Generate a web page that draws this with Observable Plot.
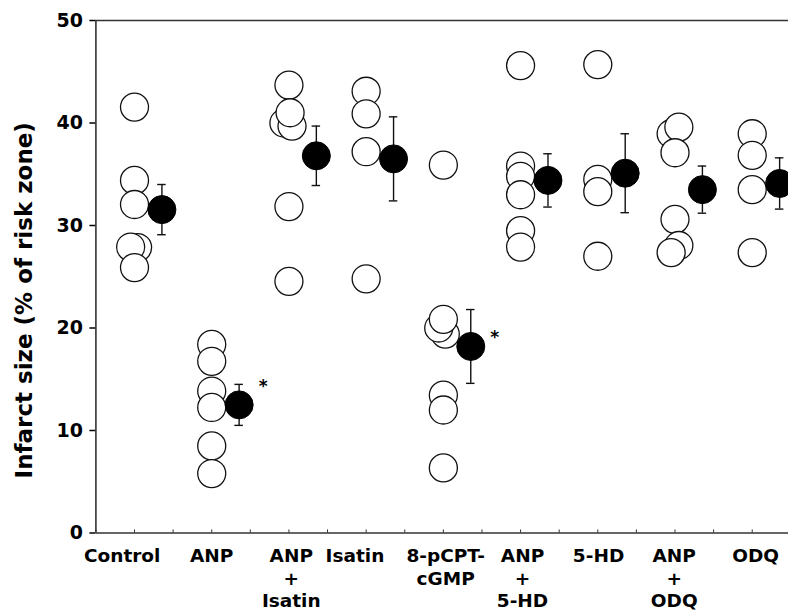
<!DOCTYPE html>
<html><head><meta charset="utf-8">
<script src="https://cdn.jsdelivr.net/npm/d3@7"></script>
<script src="https://cdn.jsdelivr.net/npm/@observablehq/plot@0.6"></script>
<style>body{margin:0;background:#fff}</style>
</head><body><div id="chart"></div>
<script>
// Groups and tick labels
const groups = ["Control","ANP","ANP + Isatin","Isatin","8-pCPT-cGMP","ANP + 5-HD","5-HD","ANP + ODQ","ODQ"];
const tickLabels = ["Control","ANP","ANP\n+\nIsatin","Isatin","8-pCPT-\ncGMP","ANP\n+\n5-HD","5-HD","ANP\n+\nODQ","ODQ"];
const tickLabelPos = [0.68, 3.0, 5.06, 6.71, 9.06, 11.05, 13.02, 14.98, 17.09];
const yTicks = [0, 10, 20, 30, 40, 50];
const yLabel = "Infarct size (% of risk zone)";

// Individual values (open circles) and small horizontal jitter
const controlValues = [41.55, 34.4, 32.05, 27.85, 27.9, 25.9];
const controlJitter = [0, 0, 0, 0.08, -0.10, 0];
const anpValues = [18.4, 16.75, 13.85, 12.25, 8.5, 5.8];
const anpJitter = [0, 0, 0, 0, 0, 0];
const anpIsatinValues = [43.7, 40.0, 39.7, 41.0, 31.85, 24.55];
const anpIsatinJitter = [0, -0.13, 0.08, 0.03, 0, 0];
const isatinValues = [43.1, 40.9, 37.2, 24.8];
const isatinJitter = [0, 0, 0, 0];
const cgmpValues = [35.9, 19.4, 20.0, 20.85, 13.45, 12.0, 6.35];
const cgmpJitter = [0, 0.05, -0.12, 0, 0, 0, 0];
const anp5hdValues = [45.6, 35.8, 34.8, 33.0, 29.5, 27.9];
const anp5hdJitter = [0, 0, 0, 0, 0, 0];
const hdValues = [45.7, 34.5, 33.3, 27.0];
const hdJitter = [0, 0, 0, 0];
const anpOdqValues = [38.95, 39.6, 37.1, 30.6, 28.05, 27.35];
const anpOdqJitter = [-0.10, 0.10, 0, 0, 0.10, -0.10];
const odqValues = [38.95, 36.85, 33.5, 27.35];
const odqJitter = [0, 0, 0, 0];

// Group means and SEM (filled circles with error bars)
const means = [31.55, 12.5, 36.8, 36.5, 18.2, 34.4, 35.1, 33.5, 34.1];
const sems = [2.45, 2.0, 2.9, 4.1, 3.6, 2.6, 3.85, 2.3, 2.5];

// Significance markers
const starGroups = ["ANP", "8-pCPT-cGMP"];
const starValues = [14.3, 19.1];

const valueSets = [controlValues, anpValues, anpIsatinValues, isatinValues, cgmpValues, anp5hdValues, hdValues, anpOdqValues, odqValues];
const jitterSets = [controlJitter, anpJitter, anpIsatinJitter, isatinJitter, cgmpJitter, anp5hdJitter, hdJitter, anpOdqJitter, odqJitter];

const pos = g => groups.indexOf(g) * 2 + 1;
const meanOffset = 0.71;
const capHalf = 0.11;

const individuals = [];
groups.forEach((g, i) => valueSets[i].forEach((v, j) => individuals.push({group: g, value: v, jitter: jitterSets[i][j]})));
const summary = groups.map((g, i) => ({group: g, mean: means[i], lo: means[i] - sems[i], hi: means[i] + sems[i]}));
const stars = starGroups.map((g, i) => ({group: g, value: starValues[i]}));
const labels = tickLabels.map((t, i) => ({label: t, x: tickLabelPos[i]}));
const minorTicks = d3.range(0, 18);

const chart = Plot.plot({
  width: 788, height: 612,
  marginLeft: 95.4, marginRight: 0, marginTop: 20, marginBottom: 79.5,
  style: {fontFamily: "DejaVu Sans", fontWeight: "bold", fontSize: "19px", color: "#000", background: "white", overflow: "visible"},
  x: {domain: [0, 17.94], axis: null},
  y: {domain: [0, 50], axis: null},
  marks: [
    Plot.axisY({ticks: yTicks, tickSize: 6, tickPadding: 7, label: null, fontSize: 19, strokeWidth: 1.5}),
    Plot.ruleY([50], {stroke: "#333", strokeWidth: 1.5}),
    Plot.ruleY([0], {stroke: "#333", strokeWidth: 1.6}),
    Plot.ruleX([0], {stroke: "#333", strokeWidth: 1.6}),
    Plot.ruleX(minorTicks, {x: d => d, y1: 0, y2: 0.3, stroke: "#333", strokeWidth: 1}),
    Plot.dot(individuals, {x: d => pos(d.group) + d.jitter, y: "value", r: 14, fill: "white", stroke: "#111", strokeWidth: 1.3}),
    Plot.ruleX(summary, {x: d => pos(d.group) + meanOffset, y1: "lo", y2: "hi", stroke: "#111", strokeWidth: 1.4}),
    Plot.ruleY(summary, {y: "hi", x1: d => pos(d.group) + meanOffset - capHalf, x2: d => pos(d.group) + meanOffset + capHalf, stroke: "#111", strokeWidth: 1.4}),
    Plot.ruleY(summary, {y: "lo", x1: d => pos(d.group) + meanOffset - capHalf, x2: d => pos(d.group) + meanOffset + capHalf, stroke: "#111", strokeWidth: 1.4}),
    Plot.dot(summary, {x: d => pos(d.group) + meanOffset, y: "mean", r: 14, fill: "#000", stroke: "#000", strokeWidth: 1}),
    Plot.text(stars, {x: d => pos(d.group) + meanOffset, y: "value", dx: 24, text: () => "*", fontSize: 17, lineAnchor: "middle"}),
    Plot.text(labels, {x: "x", y: () => 0, text: "label", dy: 12.8, lineAnchor: "top", lineHeight: 1.23, fontSize: 18.5}),
    Plot.text([yLabel], {frameAnchor: "left", dx: -70.8, dy: 23.5, rotate: -90, fontSize: 23, text: d => d, textAnchor: "middle", lineAnchor: "middle"})
  ]
});
document.getElementById("chart").appendChild(chart);
</script>
</body></html>
